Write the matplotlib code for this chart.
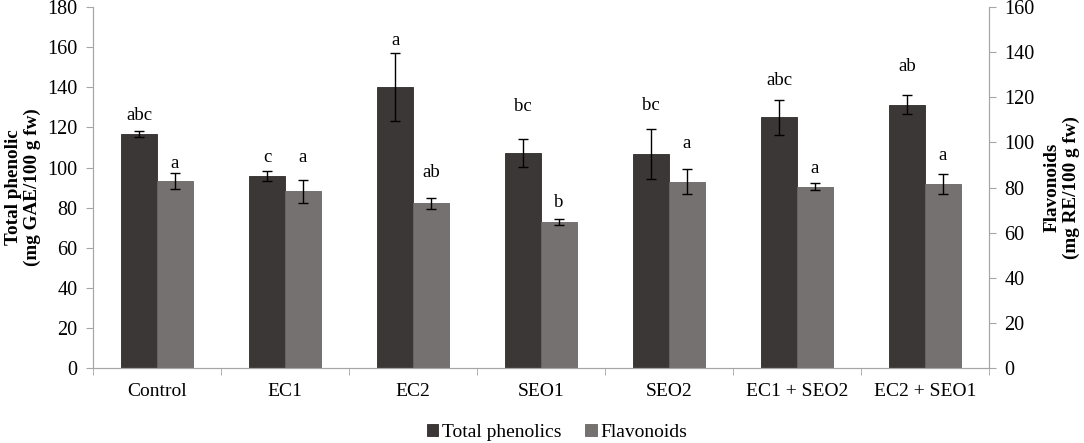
import numpy as np
import matplotlib
matplotlib.use("Agg")
import matplotlib.pyplot as plt

plt.rcParams['font.family'] = ['Liberation Serif', 'DejaVu Serif']

categories = ["Control", "EC1", "EC2", "SEO1", "SEO2", "EC1 + SEO2", "EC2 + SEO1"]

# total phenolics, left axis (mg GAE/100 g fw)
phenolics = [116.5, 95.9, 140.0, 107.2, 106.7, 125.1, 131.4]
phenolics_err = [1.5, 2.4, 17.0, 7.0, 12.6, 8.7, 4.6]
phenolics_letters = ["abc", "c", "a", "bc", "bc", "abc", "ab"]
phenolics_letter_y = [126.1, 105.2, 163.2, 130.6, 131.1, 143.6, 150.2]

# flavonoids, right axis (mg RE/100 g fw)
flavonoids = [82.9, 78.3, 73.0, 64.8, 82.7, 80.4, 81.5]
flavonoids_err = [3.5, 4.9, 2.6, 1.4, 5.6, 1.5, 4.5]
flavonoids_letters = ["a", "a", "ab", "b", "a", "a", "a"]
flavonoids_letter_y = [90.8, 93.5, 86.8, 73.4, 99.7, 88.4, 94.4]

dark = "#3b3736"
grey = "#767171"
axis_col = "#a6a6a6"

fig = plt.figure(figsize=(10.84, 4.43), dpi=100)
ax = fig.add_axes([0.0858, 0.169, 0.8266, 0.815])
ax2 = ax.twinx()

x = np.arange(len(categories))
w = 0.28

b1 = ax.bar(x - w / 2, phenolics, w, color=dark, edgecolor="#2e2a29", linewidth=0.6,
            yerr=phenolics_err, error_kw=dict(ecolor="black", elinewidth=1, capsize=3.5, capthick=1),
            label="Total phenolics", zorder=2)
b2 = ax2.bar(x + w / 2, flavonoids, w, color=grey, edgecolor="#6a6565", linewidth=0.6,
             yerr=flavonoids_err, error_kw=dict(ecolor="black", elinewidth=1, capsize=3.5, capthick=1),
             label="Flavonoids", zorder=2)

for i in range(len(categories)):
    ax.text(x[i] - w / 2, phenolics_letter_y[i], phenolics_letters[i], ha="center", va="center", fontsize=13.5)
    ax2.text(x[i] + w / 2, flavonoids_letter_y[i], flavonoids_letters[i], ha="center", va="center", fontsize=13.5)

ax.set_xlim(-0.5, len(categories) - 0.5)
ax.set_ylim(0, 180)
ax2.set_ylim(0, 160)
ax.set_yticks(np.arange(0, 181, 20))
ax2.set_yticks(np.arange(0, 161, 20))

ax.set_xticks(x)
ax.set_xticklabels(categories, fontsize=14)
ax.set_xticks(np.arange(-0.5, len(categories), 1), minor=True)
ax.tick_params(axis="x", which="major", length=0, pad=11)
ax.tick_params(axis="x", which="minor", length=5, color=axis_col, direction="out")
ax.tick_params(axis="y", labelsize=14.5, length=5, color=axis_col, pad=6)
ax2.tick_params(axis="y", labelsize=14.5, length=5, color=axis_col, pad=6)

for a in (ax, ax2):
    a.spines["top"].set_visible(False)
    for s in ("left", "right", "bottom"):
        a.spines[s].set_color(axis_col)

# axis titles placed by hand, as in the original
fig.text(23 / 1084, 1 - 187.5 / 443, "Total phenolic\n(mg GAE/100 g fw)", rotation=90,
         ha="center", va="center", fontsize=13.8, fontweight="bold", linespacing=1.2)
fig.text(1062 / 1084, 1 - 187.5 / 443, "Flavonoids\n(mg RE/100 g fw)", rotation=90,
         ha="center", va="center", fontsize=13.8, fontweight="bold", linespacing=1.2)

fig.legend([b1, b2], ["Total phenolics", "Flavonoids"], loc="lower center", ncol=2,
           bbox_to_anchor=(0.514, -0.035), frameon=False, fontsize=14,
           handlelength=0.6, handleheight=0.6, handletextpad=0.2, columnspacing=1.2)

fig.savefig("out.png", dpi=100)
